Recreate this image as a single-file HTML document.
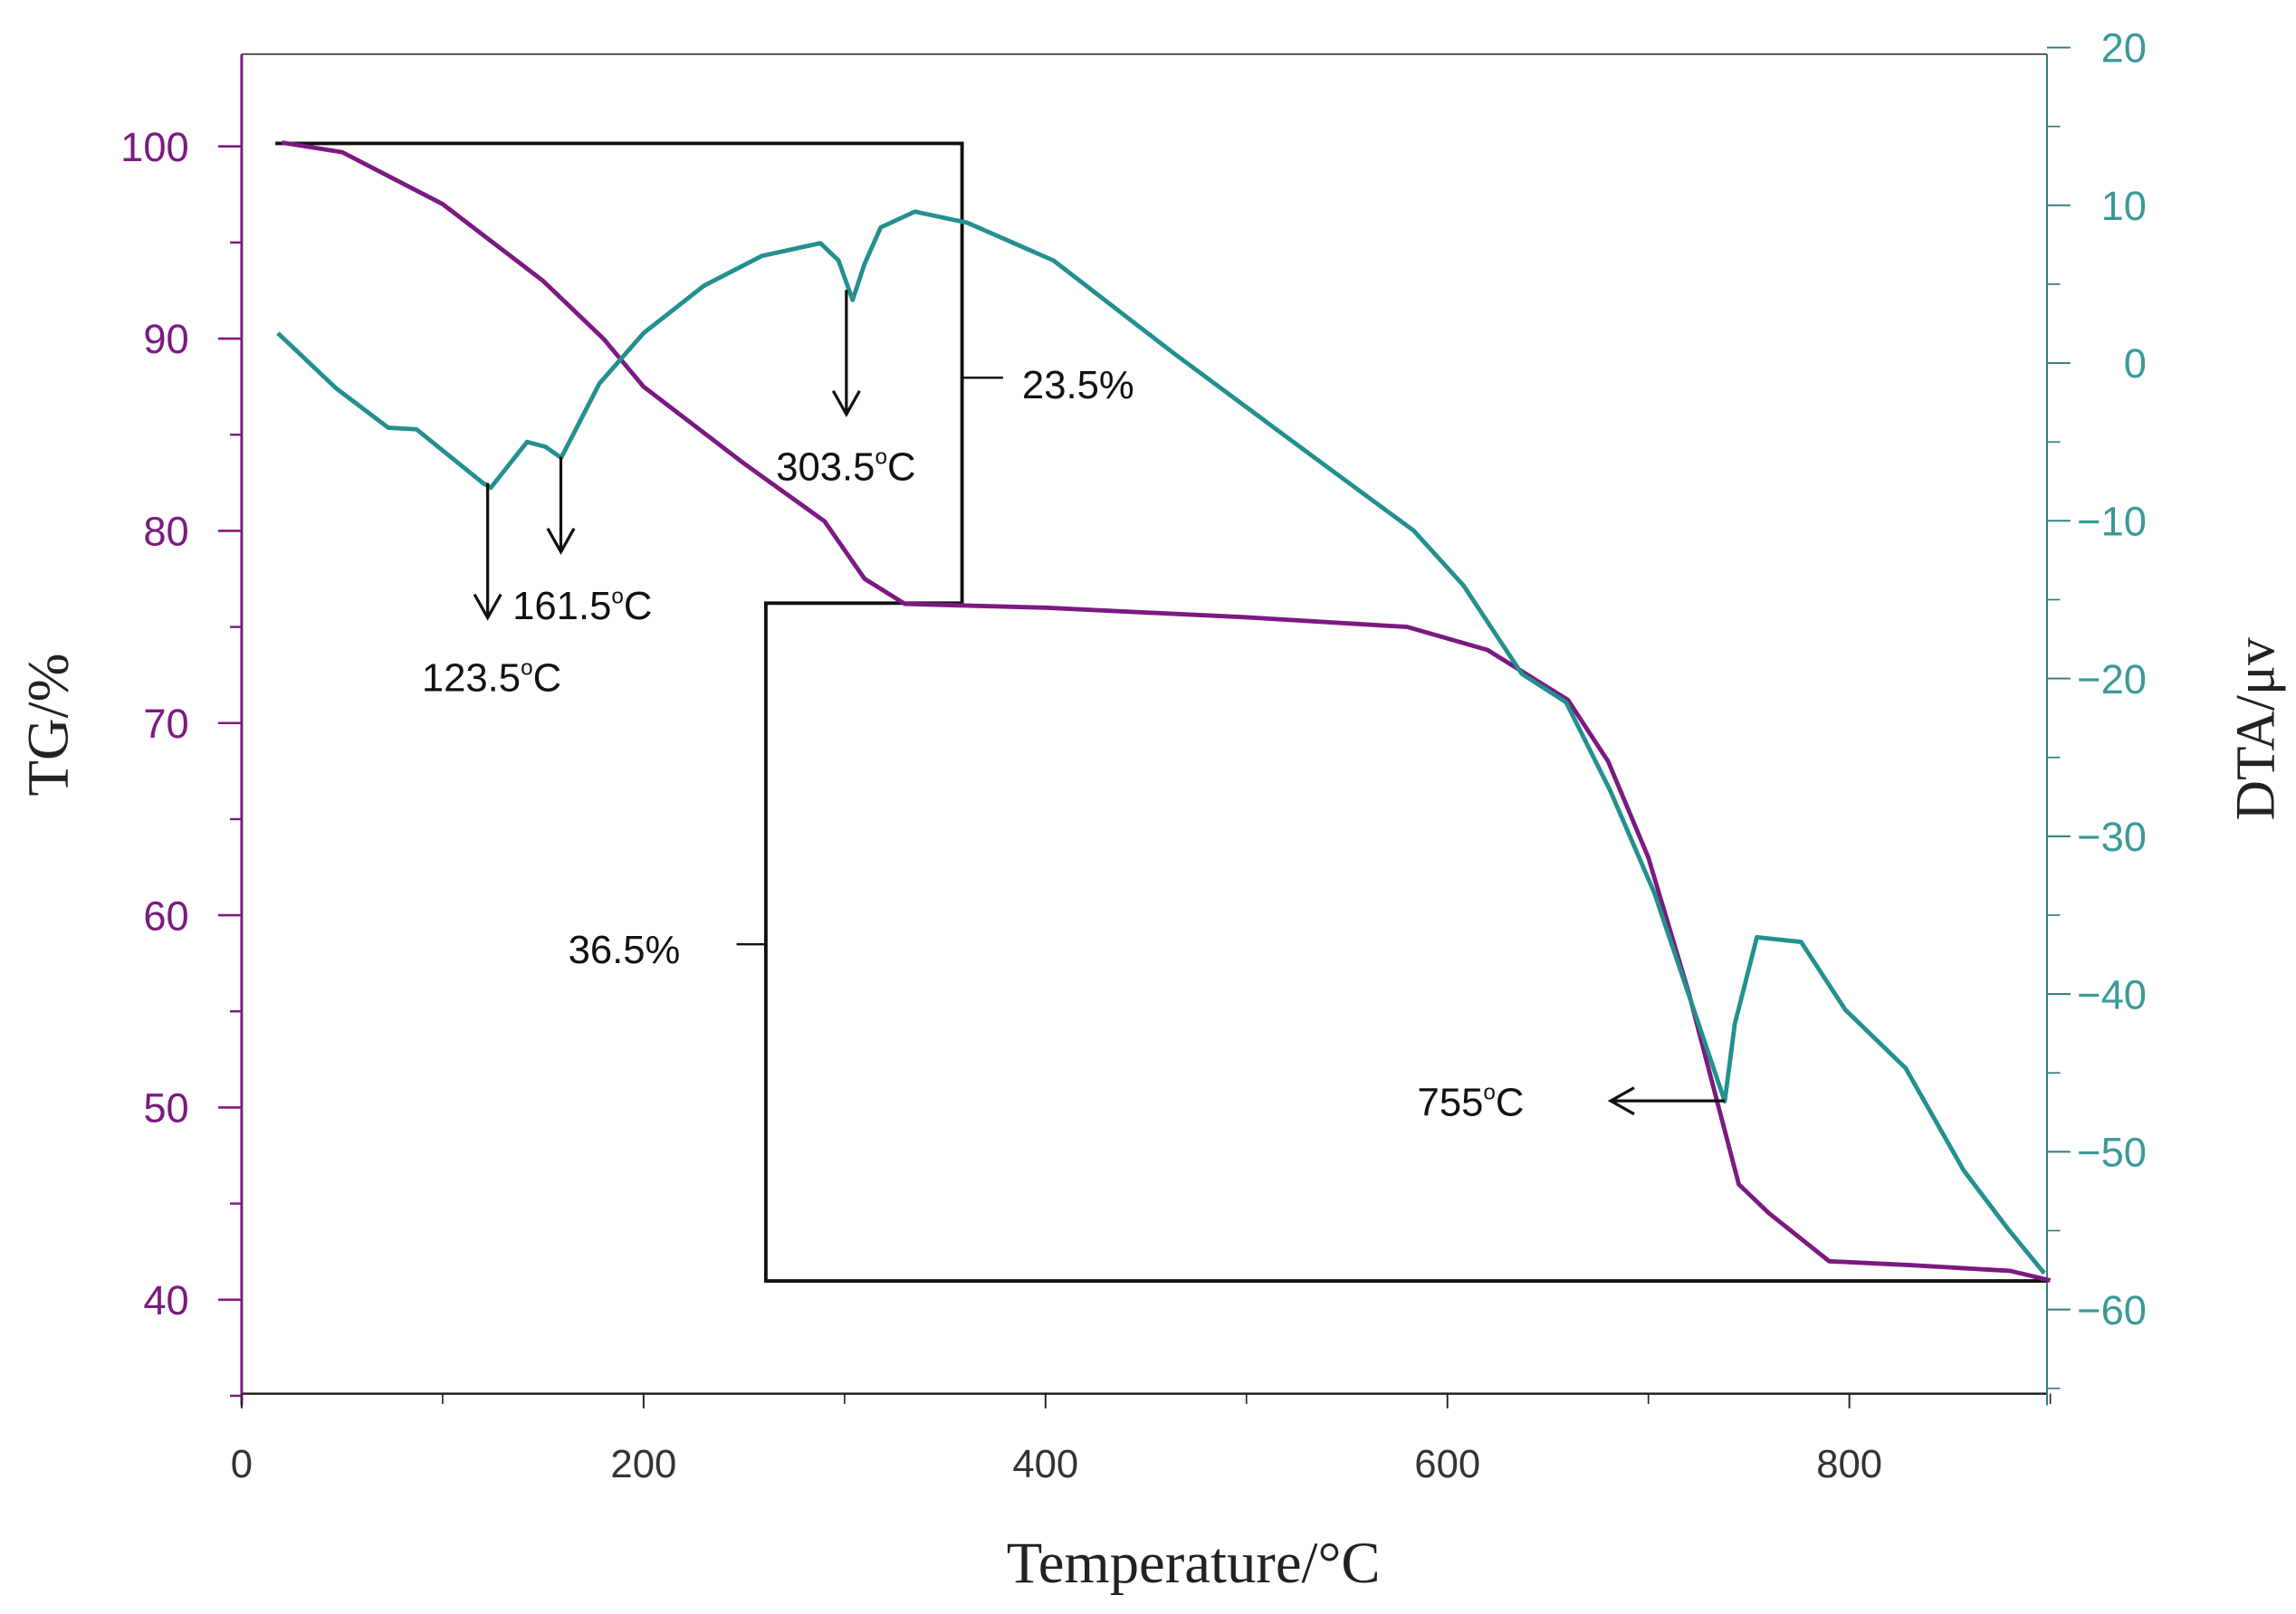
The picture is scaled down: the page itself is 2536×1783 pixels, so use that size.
<!DOCTYPE html>
<html><head><meta charset="utf-8"><style>
html,body{margin:0;padding:0;background:#fff}
svg{display:block}
</style></head><body>
<svg id="chart" width="2536" height="1783" viewBox="0 0 1568 1102.5" xmlns="http://www.w3.org/2000/svg">
<g id="g"></g>
</svg>
<script>
const tgTemps=[20,50,100,150,180,200,250,290,310,330,400,500,580,620,660,680,700,720,735,745,760,790,830,880,900];
const tgValues=[100.2,99.7,97,93,90,87.5,83.5,80.5,77.5,76.2,76,75.5,75,73.8,71.2,68,63,56,50,46,44.5,42,41.8,41.5,41];
const dtaTemps=[18,47,73,87,120,124,142,151,159,178,200,230,259,288,297,304,310,318,335,361,404,463,536,583,608,637,659,681,703,725,738,743,754,776,798,828,857,879,897];
const dtaValues=[1.9,-1.6,-4.1,-4.2,-7.6,-7.9,-5.0,-5.3,-6.0,-1.3,1.9,4.9,6.8,7.6,6.5,4.0,6.3,8.6,9.6,8.9,6.5,0.7,-6.2,-10.6,-14.1,-19.7,-21.5,-27.1,-33.6,-41.9,-46.8,-41.9,-36.4,-36.7,-41,-44.7,-51.2,-54.9,-57.7];
const xTicks=[0,200,400,600,800];
const tgTicks=[100,90,80,70,60,50,40];
const dtaTicks=[20,10,0,-10,-20,-30,-40,-50,-60];

const L=165,R=1398,T=37,B=952;
const X=t=>165+t*1.3725;
const YL=v=>100+(100-v)*13.13;
const YR=v=>248-v*10.775;
const PUR='#7b1a80',TEAL='#23908f';
const g=document.getElementById('g');
const NS='http://www.w3.org/2000/svg';
function el(tag,attrs,txt){const e=document.createElementNS(NS,tag);for(const k in attrs)e.setAttribute(k,attrs[k]);if(txt!=null)e.textContent=txt;g.appendChild(e);return e;}

let e;
e=el('line',{x1:L,y1:T,x2:R,y2:T,stroke:'#333','stroke-width':1});


e=el('line',{x1:L,y1:B,x2:R,y2:B,stroke:'#222','stroke-width':1.5});


e=el('line',{x1:L,y1:T,x2:L,y2:B+8,stroke:PUR,'stroke-width':1.8});


e=el('line',{x1:R,y1:T,x2:R,y2:B+8,stroke:'#2f7a78','stroke-width':1.2});



xTicks.forEach(t=>{
 e=el('line',{x1:X(t),y1:B,x2:X(t),y2:B+10,stroke:'#222','stroke-width':1.2});
 
 
 e=el('line',{x1:X(t+100),y1:B,x2:X(t+100),y2:B+7,stroke:'#222','stroke-width':1});
 
 
 e=el('text',{x:X(t),y:1009,'text-anchor':'middle','font-family':'Liberation Sans, sans-serif','font-size':27,fill:'#333'},String(t));
 
 
});
tgTicks.forEach(v=>{
 e=el('line',{x1:L-16,y1:YL(v),x2:L,y2:YL(v),stroke:PUR,'stroke-width':1.6});
 
 
 e=el('line',{x1:L-8,y1:YL(v-5),x2:L,y2:YL(v-5),stroke:PUR,'stroke-width':1.5});
 
 
 e=el('text',{x:129,y:YL(v)+10,'text-anchor':'end','font-family':'Liberation Sans, sans-serif','font-size':28,fill:PUR},String(v));
 
 
});
dtaTicks.forEach(v=>{
 e=el('line',{x1:R,y1:YR(v),x2:R+16,y2:YR(v),stroke:'#2f7a78','stroke-width':1.2});
 
 
 e=el('line',{x1:R,y1:YR(v-5),x2:R+9,y2:YR(v-5),stroke:'#2f7a78','stroke-width':1});
 
 
 e=el('text',{x:1466,y:YR(v)+10,'text-anchor':'end','font-family':'Liberation Sans, sans-serif','font-size':28,fill:'#3a9a98'},v<0?'\u2212'+(-v):String(v));
 
 
});

e=el('polyline',{points:'188,98 657,98 657,412 523,412 523,875 1398,875',fill:'none',stroke:'#111','stroke-width':2.4});


e=el('line',{x1:657,y1:258,x2:685,y2:258,stroke:'#111','stroke-width':1.5});


e=el('line',{x1:503,y1:645,x2:523,y2:645,stroke:'#111','stroke-width':1.5});



e=el('polyline',{points:tgTemps.map((t,i)=>X(t)+','+YL(tgValues[i])).join(' '),fill:'none',stroke:PUR,'stroke-width':3,'stroke-linejoin':'round'});


e=el('polyline',{points:dtaTemps.map((t,i)=>X(t)+','+YR(dtaValues[i])).join(' '),fill:'none',stroke:TEAL,'stroke-width':3,'stroke-linejoin':'round'});



function arrowDown(x,y1,y2,name){
 e=el('path',{d:`M${x},${y1} L${x},${y2} M${x-9},${y2-16} L${x},${y2} L${x+9},${y2-16}`,fill:'none',stroke:'#111','stroke-width':2});
 
 
}
arrowDown(333,330,422,'arrow-123');
arrowDown(383,312,377,'arrow-161');
arrowDown(578,198,283,'arrow-303');
e=el('path',{d:'M1178,752 L1100,752 M1116,743 L1100,752 L1116,761',fill:'none',stroke:'#111','stroke-width':2});



function lbl(x,y,num,name){
 e=el('text',{x:x,y:y,'font-family':'Liberation Sans, sans-serif','font-size':27,fill:'#111'});
 
 
 const a=document.createElementNS(NS,'tspan');a.textContent=num;e.appendChild(a);
 const b=document.createElementNS(NS,'tspan');b.setAttribute('dy','-11');b.setAttribute('font-size','15');b.textContent='o';e.appendChild(b);
 const c=document.createElementNS(NS,'tspan');c.setAttribute('dy','11');c.textContent='C';e.appendChild(c);
}
lbl(350,423,'161.5','label-161');
lbl(288,472,'123.5','label-123');
lbl(530,328,'303.5','label-303');
lbl(968,762,'755','label-755');
e=el('text',{x:698,y:272,'font-family':'Liberation Sans, sans-serif','font-size':27,fill:'#111'},'23.5%');


e=el('text',{x:388,y:658,'font-family':'Liberation Sans, sans-serif','font-size':27,fill:'#111'},'36.5%');



e=el('text',{x:0,y:0,transform:'translate(46,495) rotate(-90)','text-anchor':'middle','font-family':'Liberation Serif, serif','font-size':40,fill:'#222'},'TG/%');


e=el('text',{x:0,y:0,transform:'translate(1553,498) rotate(-90)','text-anchor':'middle','font-family':'Liberation Serif, serif','font-size':38,fill:'#222'},'DTA/μv');


e=el('text',{x:815,y:1081,'text-anchor':'middle','font-family':'Liberation Serif, serif','font-size':40,fill:'#222'},'Temperature/°C');


</script>
</body></html>
